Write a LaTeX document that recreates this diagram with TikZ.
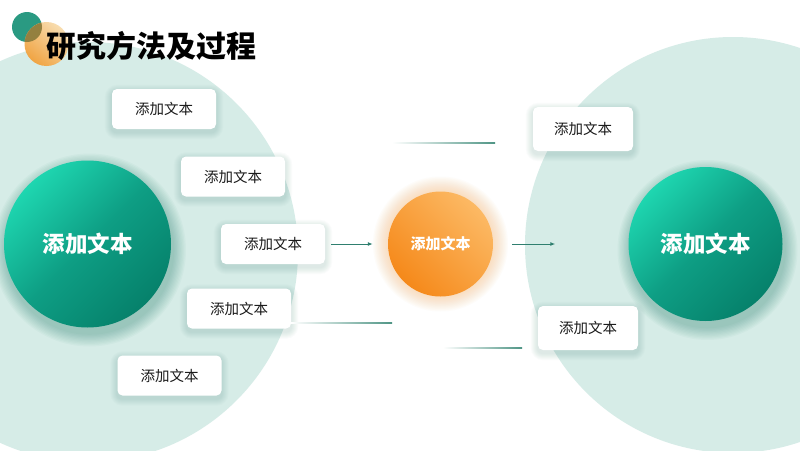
\documentclass[tikz,border=0pt]{standalone}
\usepackage{fontspec}
\setmainfont{Noto Sans CJK SC}
\usetikzlibrary{arrows.meta}
\pgfdeclarelayer{back}
\pgfdeclarelayer{shadow}
\pgfsetlayers{back,shadow,main}
\definecolor{pale}{HTML}{D6ECE7}
\definecolor{gl}{HTML}{1ED6B0}
\definecolor{gm}{HTML}{0E9E84}
\definecolor{gd}{HTML}{06816B}
\definecolor{ol}{HTML}{FCB964}
\definecolor{od}{HTML}{F5891A}
\definecolor{glow}{HTML}{F9A040}
\definecolor{gsh}{HTML}{0A6E5C}
\definecolor{bsh}{HTML}{3F7F72}
\definecolor{lteal}{HTML}{4F9585}
\definecolor{arr}{HTML}{2F7F6F}
\definecolor{txt}{HTML}{1A1A1A}
\definecolor{tteal}{HTML}{2A9A82}
\definecolor{tol}{HTML}{F8DDB0}
\definecolor{tod}{HTML}{F0A443}
\definecolor{tov}{HTML}{94803F}
\begin{document}
\begin{tikzpicture}[x=1pt,y=-1pt,
  tbox/.style={rectangle, rounded corners=5pt, fill=white, minimum width=104pt,
    minimum height=40pt, inner sep=0pt, text=txt, font=\fontsize{14.5}{16}\selectfont},
  rbox/.style={tbox, minimum width=100pt, minimum height=44pt},
  gcirc/.style={circle, inner sep=0pt, top color=gl, bottom color=gd, middle color=gm,
    shading angle=45, text=white, font=\fontsize{22.5}{24}\selectfont\bfseries},
  ocirc/.style={circle, inner sep=0pt, top color=ol, bottom color=od,
    shading angle=-45, text=white, font=\fontsize{15}{17}\selectfont\bfseries},
  conn/.style={draw=arr, line width=1pt, -{Latex[length=5pt,width=4pt]}}]
\useasboundingbox (0,0) rectangle (800,450);
% pale background discs
\begin{pgfonlayer}{back}
\fill[white] (0,0) rectangle (800,450);
\begin{scope}
\clip (0,0) rectangle (800,450);
\fill[pale] (88,252) circle (210);
\fill[pale] (733,245) circle (208);
\end{scope}
\end{pgfonlayer}
% title decoration
\fill[tteal] (27,27) circle (15);
\shade[top color=tol, bottom color=tod, shading angle=-40] (46.5,44) circle (22);
\begin{scope}
\clip (27,27) circle (15);
\fill[tov] (46.5,44) circle (22);
\end{scope}
\node[anchor=west, inner sep=0pt, text=black, font=\fontsize{30}{32}\selectfont\bfseries] (title) at (46,46) {研究方法及过程};
% decorative lines
\coordinate (d1a) at (392,143); \coordinate (d1b) at (495,143);
\coordinate (d2a) at (291,323); \coordinate (d2b) at (392,323);
\coordinate (d3a) at (443,348); \coordinate (d3b) at (522,348);
\shade[left color=white, right color=lteal] (392,142.4) rectangle (495,143.6);
\shade[left color=white, right color=lteal] (291,322.4) rectangle (392,323.6);
\shade[left color=white, right color=lteal] (443,347.4) rectangle (522,348.6);
% shadows and glow of the discs
\foreach \k in {1,...,10} \fill[gsh, opacity=0.03] (89.5,250) circle ({83.5+\k*1.3});
\foreach \k in {1,...,10} \fill[gsh, opacity=0.03] (707.5,250) circle ({77+\k*1.3});
\foreach \k in {1,...,12} \fill[glow, opacity=0.028] (440.5,244) circle ({52.5+\k*1.25});
% text boxes
\node[tbox] (b1) at (164,109) {添加文本};
\node[tbox] (b2) at (233,176.5) {添加文本};
\node[tbox] (b3) at (273,244) {添加文本};
\node[tbox] (b4) at (239,308.5) {添加文本};
\node[tbox] (b5) at (169.5,375.5) {添加文本};
\node[rbox] (b6) at (583,129) {添加文本};
\node[rbox] (b7) at (588,328) {添加文本};
\begin{pgfonlayer}{shadow}
\foreach \b in {b1,b2,b3,b4,b5,b6,b7}
  \foreach \k in {1,...,7}
    \fill[bsh, opacity=0.022, rounded corners={(5+\k)*1pt}]
      ([xshift=-\k pt, yshift={-\k pt-3pt}]\b.south west) rectangle
      ([xshift=\k pt, yshift={\k pt-3pt}]\b.north east);
\end{pgfonlayer}
% circles
\node[gcirc, minimum size=167pt] (L) at (87.5,244) {添加文本};
\node[gcirc, minimum size=154pt] (R) at (705.5,244) {添加文本};
\node[ocirc, minimum size=105pt] (O) at (440.5,244) {添加文本};
% connectors
\draw[conn, shorten <=6pt, shorten >=15pt] (b3) -- (O);
\draw[conn, shorten <=19pt, shorten >=73pt] (O) -- (R);
\end{tikzpicture}
\end{document}
